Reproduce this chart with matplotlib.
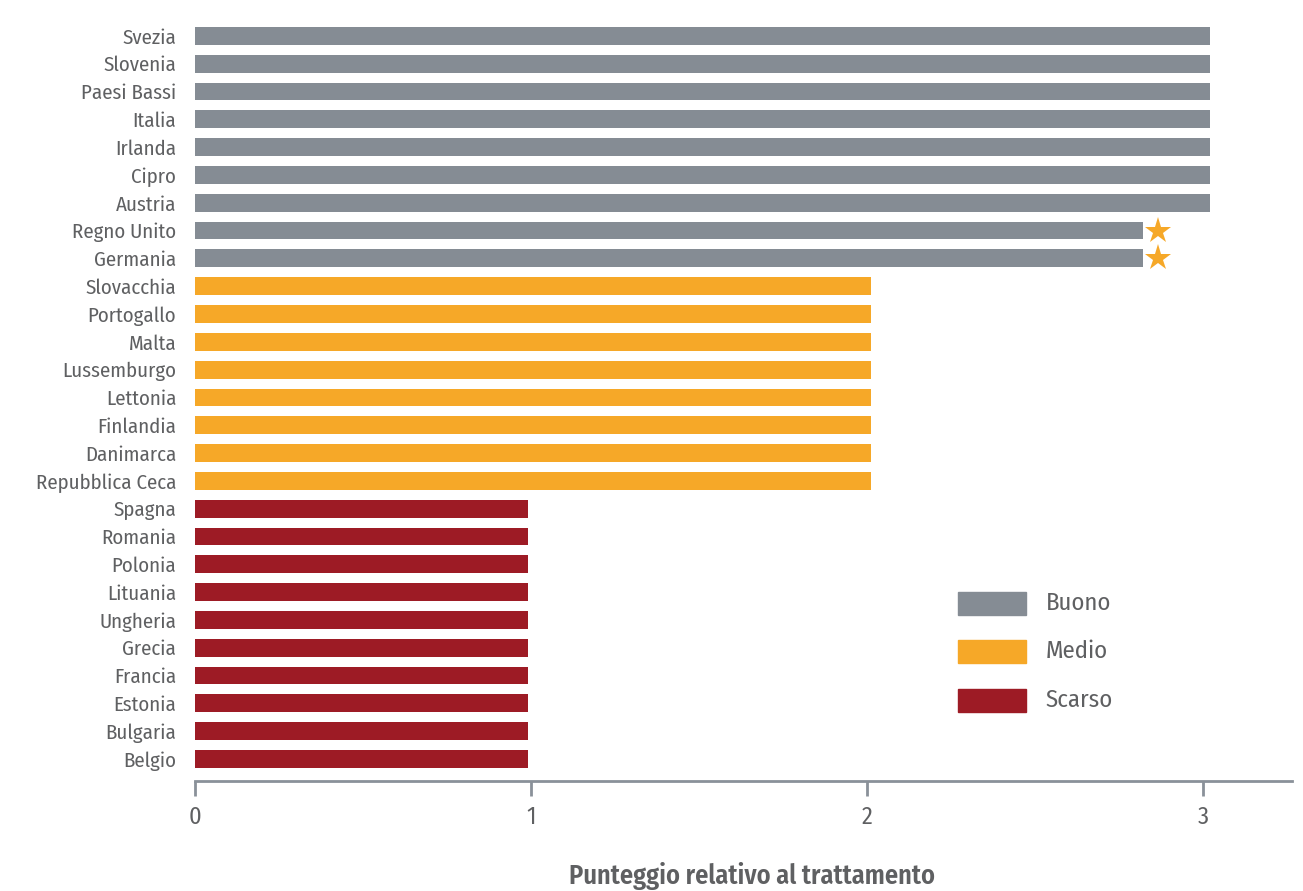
import matplotlib
matplotlib.use("Agg")
import matplotlib.pyplot as plt
from matplotlib.patches import Rectangle

countries = ["Svezia", "Slovenia", "Paesi Bassi", "Italia", "Irlanda", "Cipro", "Austria",
             "Regno Unito", "Germania",
             "Slovacchia", "Portogallo", "Malta", "Lussemburgo", "Lettonia", "Finlandia",
             "Danimarca", "Repubblica Ceca",
             "Spagna", "Romania", "Polonia", "Lituania", "Ungheria", "Grecia", "Francia",
             "Estonia", "Bulgaria", "Belgio"]
scores = [3.02, 3.02, 3.02, 3.02, 3.02, 3.02, 3.02,
          2.82, 2.82,
          2.01, 2.01, 2.01, 2.01, 2.01, 2.01, 2.01, 2.01,
          0.99, 0.99, 0.99, 0.99, 0.99, 0.99, 0.99, 0.99, 0.99, 0.99]
categories = ["Buono"] * 9 + ["Medio"] * 8 + ["Scarso"] * 10
starred = ["Regno Unito", "Germania"]
legend_labels = ["Buono", "Medio", "Scarso"]
xticks = [0, 1, 2, 3]
xlabel = "Punteggio relativo al trattamento"

colors = {"Buono": "#858c94", "Medio": "#f6a828", "Scarso": "#9d1b25"}
text_color = "#5f6062"
axis_color = "#8a9199"
fam = ["Fira Sans Condensed", "Roboto Condensed", "Asap Condensed", "DejaVu Sans"]
plt.rcParams["font.family"] = fam

fig = plt.figure(figsize=(13.03, 8.91), dpi=100)
ax = fig.add_axes([0.1497, 0.1235, 0.8418, 0.8518])

ypos = list(range(len(countries)))
ax.barh(ypos, scores, height=0.64, color=[colors[c] for c in categories])

for c in starred:
    i = countries.index(c)
    ax.plot(scores[i] + 0.045, i, marker="*", color=colors["Medio"], markersize=20,
            markeredgewidth=0, clip_on=False)

ax.set_ylim(len(countries) - 1 + 0.79, -0.5)
ax.set_xlim(0, 3.264)
ax.set_yticks(ypos)
ax.set_yticklabels(countries, fontsize=15, color=text_color)
ax.tick_params(axis="y", length=0, pad=13.5)
ax.set_xticks(xticks)
ax.set_xticklabels([str(t) for t in xticks], fontsize=17.5, color=text_color)
ax.tick_params(axis="x", length=11, width=2, color=axis_color, pad=7)
for s in ["top", "right", "left"]:
    ax.spines[s].set_visible(False)
ax.spines["bottom"].set_color(axis_color)
ax.spines["bottom"].set_linewidth(2)
ax.set_xlabel(xlabel, fontsize=19, fontweight="semibold", color=text_color)
ax.xaxis.set_label_coords((752 - 195) / 1097, -(862 - 781) / 759)

# legend
W, H = 1303, 891
for k, (lab, yc) in enumerate(zip(legend_labels, [603, 651, 700])):
    fig.patches.append(Rectangle((958 / W, 1 - (yc + 11.5) / H), 68 / W, 23 / H,
                                 transform=fig.transFigure, color=colors[lab]))
    fig.text(1046 / W, 1 - yc / H, lab, fontsize=17.8, color=text_color, va="center", ha="left")

fig.savefig("out.png", dpi=100)
